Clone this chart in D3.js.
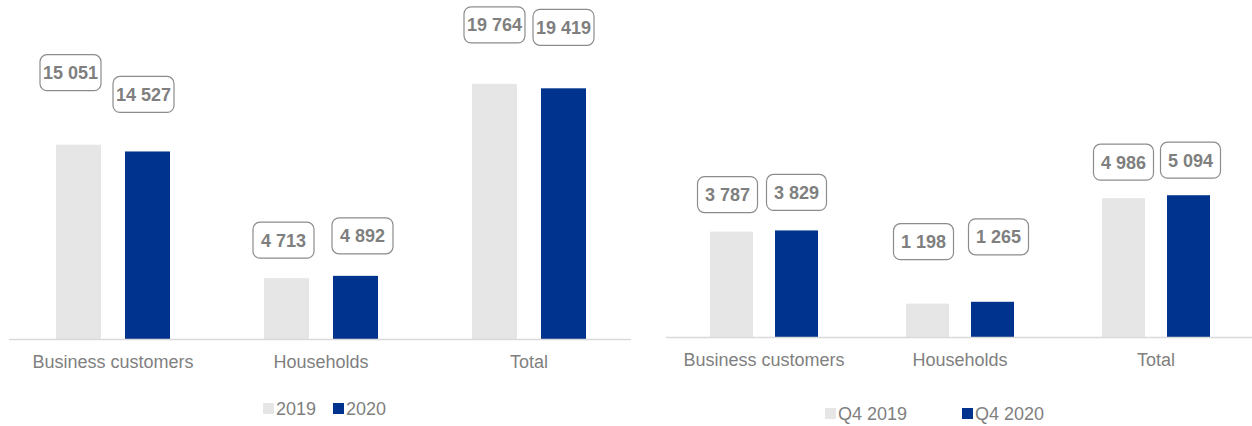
<!DOCTYPE html>
<html>
<head>
<meta charset="utf-8">
<script src="https://cdn.jsdelivr.net/npm/d3@7"></script>
<style>
  body { margin: 0; background: #fff; }
  svg { display: block; font-family: "Liberation Sans", Arial, sans-serif; }
</style>
</head>
<body>
<svg id="chart" width="1252" height="426"></svg>
<script>
// data
var categories = ["Business customers", "Households", "Total"];
var yearSeries = ["2019", "2020"];
var year2019 = [15051, 4713, 19764];
var year2020 = [14527, 4892, 19419];
var quarterSeries = ["Q4 2019", "Q4 2020"];
var q4_2019 = [3787, 1198, 4986];
var q4_2020 = [3829, 1265, 5094];

var colors = ["#e6e6e6", "#00338d"];
var textGrey = "#7f7f7f";

var fmt = d3.formatLocale({ decimal: ".", thousands: " ", grouping: [3], currency: ["", ""] }).format(",d");

var svg = d3.select("#chart");

// layout for each panel (label nudges are [dx, lift above bar] in px, like the moved excel labels)
var panels = [
	{
		series: yearSeries, values: [year2019, year2020],
		x0: 9, x1: 633, base: 339, yMax: 22000, yTop: 55,
		barW: 45, gap: 24, boxW: 61, catY: 368,
		nudge: [[[-8, 54], [-3, 20], [0, 41]], [[-4, 39], [7, 22], [0, 43]]],
		legendY: 415, legendX: [263, 333]
	},
	{
		series: quarterSeries, values: [q4_2019, q4_2020],
		x0: 666, x1: 1254, base: 337, yMax: 6000, yTop: 170,
		barW: 43, gap: 22, boxW: 60, catY: 366,
		nudge: [[[-4, 19], [-4, 44], [0, 18]], [[0, 20], [6, 47], [2, 17]]],
		legendY: 420, legendX: [825, 962]
	}
];

panels.forEach(function (p) {

	var x = d3.scaleBand().domain(categories).range([p.x0, p.x1]);
	var y = d3.scaleLinear().domain([0, p.yMax]).range([p.base, p.yTop]);

	var g = svg.append("g");

	var groupW = p.barW * 2 + p.gap;

	function barX(cat, s) {
		return x(cat) + x.bandwidth() / 2 - groupW / 2 + s * (p.barW + p.gap);
	}

	p.values.forEach(function (vals, s) {
		g.selectAll(".bar" + s)
			.data(vals)
			.enter()
			.append("rect")
			.attr("x", function (d, i) { return barX(categories[i], s); })
			.attr("y", function (d) { return y(d); })
			.attr("width", p.barW)
			.attr("height", function (d) { return y(0) - y(d); })
			.attr("fill", colors[s]);
	});

	// baseline
	g.append("line")
		.attr("x1", p.x0).attr("x2", p.x1 - 2)
		.attr("y1", p.base + 0.5).attr("y2", p.base + 0.5)
		.attr("stroke", "#d9d9d9").attr("stroke-width", 1.5);

	// category labels
	g.selectAll(".cat")
		.data(categories)
		.enter()
		.append("text")
		.attr("x", function (d) { return x(d) + x.bandwidth() / 2; })
		.attr("y", p.catY)
		.attr("text-anchor", "middle")
		.attr("font-size", 18)
		.attr("fill", textGrey)
		.text(function (d) { return d; });

	// value labels in rounded boxes
	p.values.forEach(function (vals, s) {
		vals.forEach(function (v, i) {
			var n = p.nudge[s][i];
			var cx = barX(categories[i], s) + p.barW / 2 + n[0];
			var bottom = y(v) - n[1];
			var lg = g.append("g");
			lg.append("rect")
				.attr("x", cx - p.boxW / 2)
				.attr("y", bottom - 36)
				.attr("width", p.boxW)
				.attr("height", 36)
				.attr("rx", 7)
				.attr("fill", "#fff")
				.attr("stroke", "#8c8c8c")
				.attr("stroke-width", 1.2);
			lg.append("text")
				.attr("x", cx)
				.attr("y", bottom - 18 + 6.5)
				.attr("text-anchor", "middle")
				.attr("font-size", 18)
				.attr("font-weight", "bold")
				.attr("fill", textGrey)
				.text(fmt(v));
		});
	});

	// legend
	var leg = g.selectAll(".leg")
		.data(p.series)
		.enter()
		.append("g")
		.attr("transform", function (d, i) { return "translate(" + p.legendX[i] + "," + p.legendY + ")"; });

	leg.append("rect")
		.attr("x", 0).attr("y", -12)
		.attr("width", 11).attr("height", 11)
		.attr("fill", function (d, i) { return colors[i]; });

	leg.append("text")
		.attr("x", 13).attr("y", 0)
		.attr("font-size", 18)
		.attr("fill", textGrey)
		.text(function (d) { return d; });
});
</script>
</body>
</html>
